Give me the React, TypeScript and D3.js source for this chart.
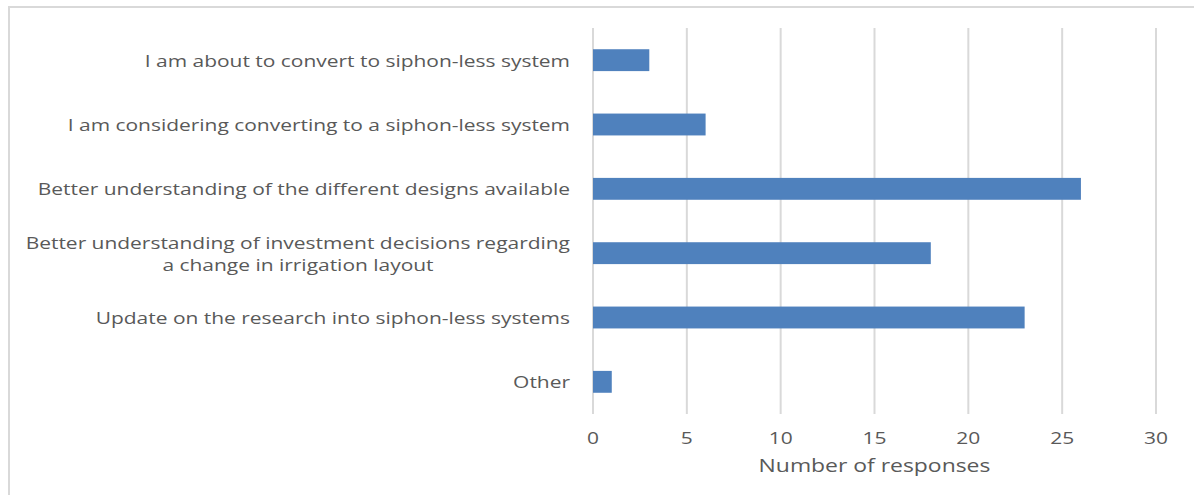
import React from "react";
import * as d3 from "d3";

const categories = [
  ["I am about to convert to siphon-less system"],
  ["I am considering converting to a siphon-less system"],
  ["Better understanding of the different designs available"],
  ["Better understanding of investment decisions regarding", "a change in irrigation layout"],
  ["Update on the research into siphon-less systems"],
  ["Other"],
];
const values = [3, 6, 26, 18, 23, 1];
const xTicks = [0, 5, 10, 15, 20, 25, 30];
const axisTitle = "Number of responses";

const W = 1194;
const H = 495;
const left = 593;
const right = 1156;
const top = 28;
const bottom = 414;
const FONT = "'Open Sans', sans-serif";
const TXT = "#595959";
const SX = 1.31;

function T({ x, y, anchor, size = 16, children }: { x: number; y: number; anchor: string; size?: number; children: React.ReactNode }) {
  return (
    <text
      transform={`translate(${x},${y}) scale(${SX},1)`}
      dy="0.35em"
      textAnchor={anchor}
      fontFamily={FONT}
      fontSize={size}
      fill={TXT}
    >
      {children}
    </text>
  );
}

export default function App() {
  const x = d3.scaleLinear().domain([0, 30]).range([left, right]);
  const y = d3
    .scaleBand<number>()
    .domain(d3.range(categories.length))
    .range([top, bottom])
    .paddingInner(0.66)
    .paddingOuter(0.33);
  return (
    <svg
      width={W}
      height={H}
      style={{ position: "absolute", left: 0, top: 0, display: "block", background: "#fff" }}
    >
      <rect x={9} y={7} width={1190} height={500} fill="#fff" stroke="#d9d9d9" strokeWidth={2} />
      {xTicks.map((t) => (
        <line key={t} x1={x(t)} x2={x(t)} y1={top} y2={bottom} stroke="#d9d9d9" strokeWidth={2} />
      ))}
      {values.map((v, i) => (
        <rect key={i} x={x(0)} y={y(i)!} width={x(v) - x(0)} height={y.bandwidth()} fill="#4f81bd" />
      ))}
      {categories.map((lines, i) => {
        const cy = y(i)! + y.bandwidth() / 2;
        if (lines.length === 1) {
          return (
            <T key={i} x={570} y={cy + 1} anchor="end">
              {lines[0]}
            </T>
          );
        }
        return (
          <g key={i}>
            <T x={570} y={cy - 10} anchor="end">
              {lines[0]}
            </T>
            <T x={298} y={cy + 12} anchor="middle">
              {lines[1]}
            </T>
          </g>
        );
      })}
      {xTicks.map((t) => (
        <T key={t} x={x(t)} y={438} anchor="middle">
          {t}
        </T>
      ))}
      <T x={(left + right) / 2} y={466} anchor="middle" size={17.5}>
        {axisTitle}
      </T>
    </svg>
  );
}
